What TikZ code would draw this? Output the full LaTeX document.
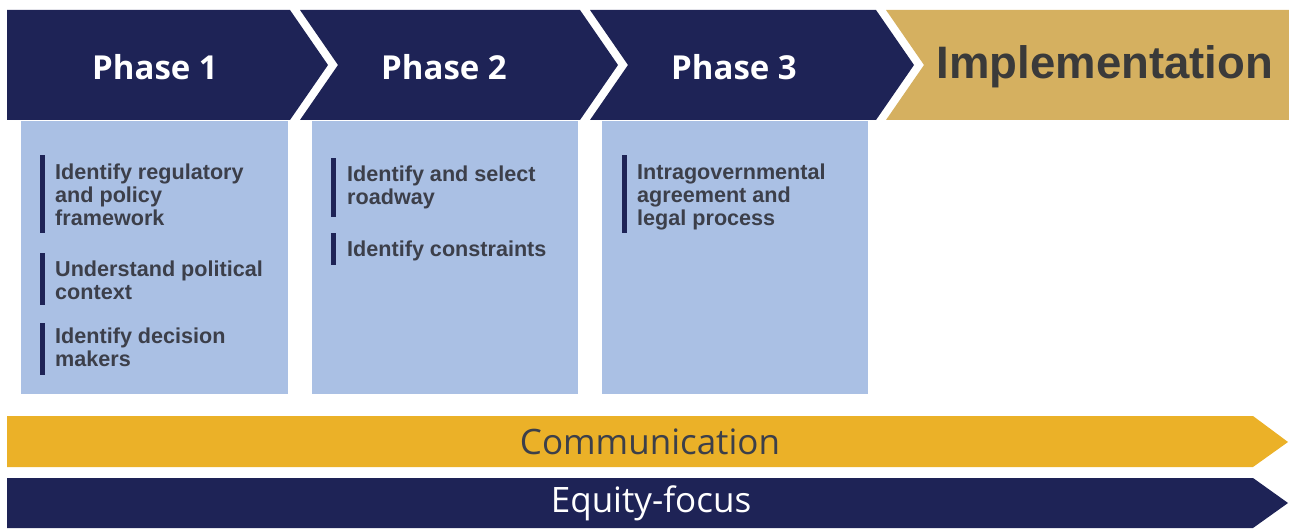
\documentclass[tikz,border=0pt]{standalone}
\usepackage{fontspec}
\setmainfont{Liberation Sans}
\newfontfamily\osans{Open Sans}
\newfontfamily\lsans{Liberation Sans}
\definecolor{navy}{HTML}{1E2356}
\definecolor{impgold}{HTML}{D5B060}
\definecolor{boxblue}{HTML}{AAC0E4}
\definecolor{commorange}{HTML}{EBB128}
\definecolor{txtgray}{HTML}{3C3F4A}
\definecolor{impgray}{HTML}{3A3A3A}
\begin{document}
\begin{tikzpicture}[x=1pt,y=-1pt,
  phaselabel/.style={text=white, font=\osans\bfseries\fontsize{33}{36}\selectfont, inner sep=0pt},
  item/.style={anchor=north west, align=left, text=txtgray, inner sep=0pt,
    font=\lsans\bfseries\fontsize{21.6}{23}\selectfont},
  itembar/.style={fill=navy},
  panel/.style={fill=boxblue},
  bandtext/.style={font=\osans\fontsize{35}{38}\selectfont, inner sep=0pt}]
\useasboundingbox (0,0) rectangle (1289,529);
% chevron header
\fill[navy] (7,10) -- (290,10) -- (328,65) -- (290,120) -- (7,120) -- cycle;
\fill[navy] (300,10) -- (580,10) -- (618,65) -- (580,120) -- (300,120) -- (338,65) -- cycle;
\fill[navy] (590,10) -- (876,10) -- (914,65) -- (876,120) -- (590,120) -- (628,65) -- cycle;
\fill[impgold] (886,10) -- (1289,10) -- (1289,120) -- (886,120) -- (924,65) -- cycle;
\node[phaselabel] (p1) at (155,67) {Phase 1};
\node[phaselabel] (p2) at (444,67) {Phase 2};
\node[phaselabel] (p3) at (734,67) {Phase 3};
\node[text=impgray, font=\lsans\bfseries\fontsize{45.5}{48}\selectfont, inner sep=0pt] (imp) at (1105,67) {Implementation};
% panels
\fill[panel] (21,121) rectangle (288,394);
\fill[panel] (312,121) rectangle (578,394);
\fill[panel] (602,121) rectangle (868,394);
% phase 1 items
\fill[itembar] (40,155) rectangle (45,233);
\node[item] (a1) at (55,164) {Identify regulatory\\and policy\\framework};
\fill[itembar] (40,253) rectangle (45,305);
\node[item] (a2) at (55,261) {Understand political\\context};
\fill[itembar] (40,323) rectangle (45,375);
\node[item] (a3) at (55,327.5) {Identify decision\\makers};
% phase 2 items
\fill[itembar] (331,158) rectangle (336,217);
\node[item] (b1) at (347,166) {Identify and select\\roadway};
\fill[itembar] (331,233) rectangle (336,265);
\node[item] (b2) at (347,241) {Identify constraints};
% phase 3 items
\fill[itembar] (622,155) rectangle (627,233);
\node[item] (c1) at (637,164) {Intragovernmental\\agreement and\\legal process};
% bottom bands
\fill[commorange] (7,416) -- (1253,416) -- (1288,442) -- (1253,467) -- (7,467) -- cycle;
\fill[navy] (7,478) -- (1253,478) -- (1288,503) -- (1253,528) -- (7,528) -- cycle;
\node[bandtext, text=txtgray] (comm) at (650,442) {Communication};
\node[bandtext, text=white] (eq) at (651,503) {Equity-focus};
\end{tikzpicture}
\end{document}
